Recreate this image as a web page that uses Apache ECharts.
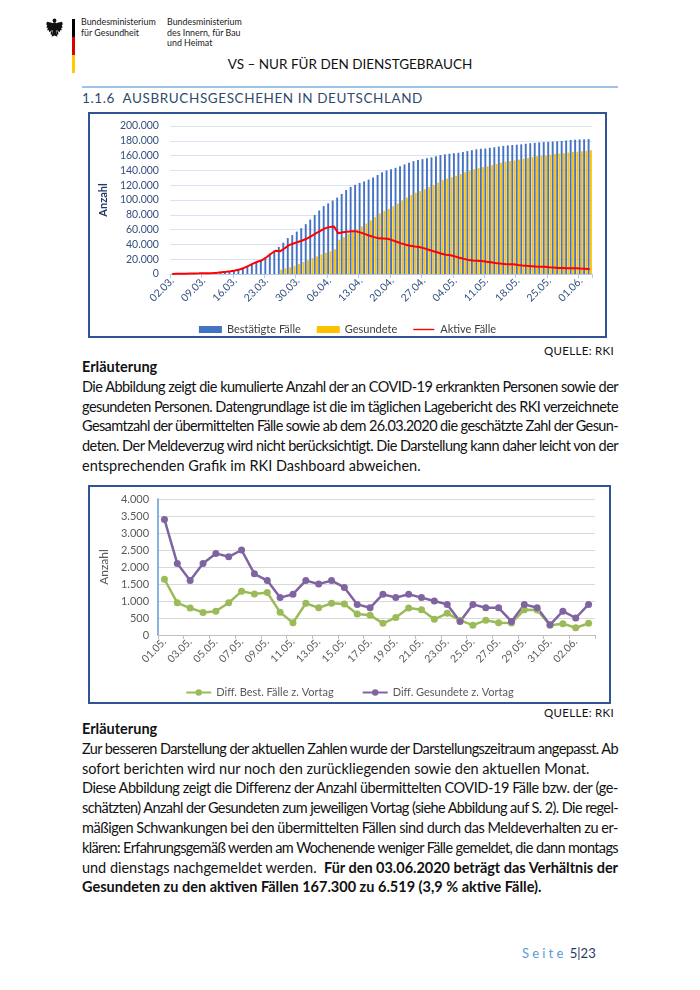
<!DOCTYPE html>
<html lang="de">
<head>
<meta charset="utf-8">
<script src="https://cdn.jsdelivr.net/npm/echarts@6/dist/echarts.min.js"></script>
<style>
  html,body{margin:0;padding:0;background:#fff;}
  body{width:700px;height:990px;position:relative;overflow:hidden;font-family:Lato,"Noto Sans",sans-serif;color:#111;}
  .abs{position:absolute;white-space:nowrap;}
  .hdr{font-size:10.3px;line-height:10.5px;color:#1a1a1a;font-family:Lato,sans-serif;transform:scaleX(0.86);transform-origin:0 0;}
  .box{position:absolute;border:2px solid #2F5597;box-sizing:border-box;background:#fff;}
  .chart{position:absolute;left:0;top:0;right:0;bottom:0;}
  .txt{position:absolute;left:82px;width:536px;font-size:14.5px;line-height:19.8px;color:#111;}
  .ln{display:block;height:19.8px;white-space:nowrap;overflow:visible;}
  .j{text-align:justify;text-align-last:justify;}
  .quelle{position:absolute;right:86px;font-size:11.5px;color:#111;letter-spacing:0.3px;}
  b{font-weight:700;}
</style>
</head>
<body>
<!-- header -->
<svg class="abs" style="left:46px;top:18px" width="17" height="20" viewBox="0 0 20 24">
  <g fill="#111">
    <circle cx="10" cy="3" r="2.3"/>
    <ellipse cx="10" cy="11" rx="3.2" ry="6"/>
    <polygon points="8,6 1,4.5 0,7.5 1.2,8.6 0.3,11.5 2,12 1.2,14.8 3.3,14.8 3.6,17 8,14"/>
    <polygon points="12,6 19,4.5 20,7.5 18.8,8.6 19.7,11.5 18,12 18.8,14.8 16.7,14.8 16.4,17 12,14"/>
    <polygon points="8,15.5 12,15.5 13.5,22.5 10,21 6.5,22.5"/>
    <rect x="5.5" y="16" width="2" height="4"/>
    <rect x="12.5" y="16" width="2" height="4"/>
  </g>
</svg>
<div class="abs" style="left:72px;top:19px;width:2.5px;height:18px;background:#000"></div>
<div class="abs" style="left:72px;top:37px;width:2.5px;height:18px;background:#DD0000"></div>
<div class="abs" style="left:72px;top:55px;width:2.5px;height:18px;background:#FFCC00"></div>
<div class="abs hdr" style="left:81px;top:16px">Bundesministerium<br>für Gesundheit</div>
<div class="abs hdr" style="left:167px;top:16px">Bundesministerium<br>des Innern, für Bau<br>und Heimat</div>
<div class="abs" style="left:0;width:700px;top:56px;text-align:center;font-size:13.5px;color:#111;">VS – NUR FÜR DEN DIENSTGEBRAUCH</div>
<div class="abs" style="left:82px;top:86px;width:536px;height:1.5px;background:#9DC3E6"></div>
<div id="sect" class="abs fit" data-w="341" style="left:82px;top:90px;font-size:13.5px;color:#2E4A70;letter-spacing:1px;">1.1.6&nbsp;&nbsp;AUSBRUCHSGESCHEHEN IN DEUTSCHLAND</div>

<!-- chart 1 -->
<div class="box" style="left:88px;top:112px;width:519px;height:226px;"><div id="c1" class="chart"></div></div>
<div class="quelle" style="top:344px;">QUELLE: RKI</div>
<div class="txt" style="top:357px;">
  <span class="ln"><b>Erläuterung</b></span>
  <span class="ln j">Die Abbildung zeigt die kumulierte Anzahl der an COVID-19 erkrankten Personen sowie der</span>
  <span class="ln j">gesundeten Personen. Datengrundlage ist die im täglichen Lagebericht des RKI verzeichnete</span>
  <span class="ln j">Gesamtzahl der übermittelten Fälle sowie ab dem 26.03.2020 die geschätzte Zahl der Gesun-</span>
  <span class="ln j">deten. Der Meldeverzug wird nicht berücksichtigt. Die Darstellung kann daher leicht von der</span>
  <span class="ln">entsprechenden Grafik im RKI Dashboard abweichen.</span>
</div>

<!-- chart 2 -->
<div class="box" style="left:88px;top:485px;width:523px;height:219px;"><div id="c2" class="chart"></div></div>
<div class="quelle" style="top:706px;">QUELLE: RKI</div>
<div class="txt" style="top:719px;">
  <span class="ln"><b>Erläuterung</b></span>
  <span class="ln j">Zur besseren Darstellung der aktuellen Zahlen wurde der Darstellungszeitraum angepasst. Ab</span>
  <span class="ln">sofort berichten wird nur noch den zurückliegenden sowie den aktuellen Monat.</span>
  <span class="ln j">Diese Abbildung zeigt die Differenz der Anzahl übermittelten COVID-19 Fälle bzw. der (ge-</span>
  <span class="ln j">schätzten) Anzahl der Gesundeten zum jeweiligen Vortag (siehe Abbildung auf S. 2). Die regel-</span>
  <span class="ln j">mäßigen Schwankungen bei den übermittelten Fällen sind durch das Meldeverhalten zu er-</span>
  <span class="ln j">klären: Erfahrungsgemäß werden am Wochenende weniger Fälle gemeldet, die dann montags</span>
  <span class="ln j">und dienstags nachgemeldet werden.&nbsp; <b>Für den 03.06.2020 beträgt das Verhältnis der</b></span>
  <span class="ln"><b>Gesundeten zu den aktiven Fällen 167.300 zu 6.519 (3,9 % aktive Fälle).</b></span>
</div>

<!-- footer -->
<div class="abs" style="left:522px;top:945px;font-size:13px;"><span style="color:#5B9BD5;letter-spacing:3.2px;">Seite</span> <span style="color:#1F3864;">5|23</span></div>

<script>
// ---------------- data: chart 1 (cumulative) ----------------
const dates1 = ['02.03.','03.03.','04.03.','05.03.','06.03.','07.03.','08.03.','09.03.','10.03.','11.03.','12.03.','13.03.','14.03.','15.03.','16.03.','17.03.','18.03.','19.03.','20.03.','21.03.','22.03.','23.03.','24.03.','25.03.','26.03.','27.03.','28.03.','29.03.','30.03.','31.03.',
'01.04.','02.04.','03.04.','04.04.','05.04.','06.04.','07.04.','08.04.','09.04.','10.04.','11.04.','12.04.','13.04.','14.04.','15.04.','16.04.','17.04.','18.04.','19.04.','20.04.','21.04.','22.04.','23.04.','24.04.','25.04.','26.04.','27.04.','28.04.','29.04.','30.04.',
'01.05.','02.05.','03.05.','04.05.','05.05.','06.05.','07.05.','08.05.','09.05.','10.05.','11.05.','12.05.','13.05.','14.05.','15.05.','16.05.','17.05.','18.05.','19.05.','20.05.','21.05.','22.05.','23.05.','24.05.','25.05.','26.05.','27.05.','28.05.','29.05.','30.05.','31.05.',
'01.06.','02.06.','03.06.'];
const confirmed = [150,188,240,349,534,684,847,1112,1139,1296,1567,2369,3062,3795,4838,
6012,8198,10999,13957,16662,18610,22672,27436,31554,36508,42288,48582,52547,57298,61913,
67366,73522,79696,85778,91714,95391,99225,103228,108202,113525,117658,120479,123016,125098,127584,130450,133830,137439,139897,141672,143457,145694,148046,150383,152438,154175,155193,156337,157641,159119,
160758,161703,162496,163160,163860,164807,166091,167300,168551,169218,169575,170508,171306,172239,173152,173772,174355,174697,175210,176007,176752,177212,177850,178281,178570,179002,179364,179717,180458,181196,181482,
181815,182028,182370];
const recovered = [null,null,null,null,null,null,null,null,null,null,null,null,null,null,null,null,null,null,null,null,null,null,null,null,
5700,7600,9200,11000,13500,16100,
18700,21400,23800,26400,28700,30600,33300,46300,49700,54100,57400,60200,64300,68200,72600,77000,81800,85400,88000,91500,95200,99400,103300,106800,109800,112000,114500,117400,120400,123500,
126900,129000,130600,132700,135100,137400,139900,141700,143300,144400,145600,147200,148700,150300,151700,152600,153400,154600,155700,156900,158000,159000,159900,160300,161200,162000,162800,163200,164100,164900,165200,
165900,166400,167300];
const active = [150,188,240,349,534,684,847,1110,1137,1293,1564,2364,3056,3787,4826,
5998,8170,10960,13910,16605,18550,22580,27320,31400,
30610,34430,39050,41160,43340,45230,
47930,51250,54880,58220,61670,63360,64320,55070,56390,57050,57710,57610,55920,53930,51730,49880,48160,47930,47600,45770,43660,41420,39650,38260,37140,36540,34940,33020,31130,29330,
27380,26130,25250,23770,21930,20410,19070,18330,17880,17420,16560,15780,14970,14220,13630,13290,13040,12160,11500,11020,10610,10040,9730,9730,9110,8700,8220,8110,7910,7810,7780,
7400,7110,6519];
const yTicks1 = {min:0, max:200000, step:20000};

// ---------------- data: chart 2 (daily differences) ----------------
const dates2 = ['01.05.','02.05.','03.05.','04.05.','05.05.','06.05.','07.05.','08.05.','09.05.','10.05.','11.05.','12.05.','13.05.','14.05.','15.05.','16.05.','17.05.','18.05.','19.05.','20.05.','21.05.','22.05.','23.05.','24.05.','25.05.','26.05.','27.05.','28.05.','29.05.','30.05.','31.05.','01.06.','02.06.','03.06.'];
const diffConfirmed = [1639,945,793,664,700,947,1284,1209,1251,667,357,933,798,933,913,620,583,342,513,797,745,460,638,431,289,432,362,353,741,738,286,333,213,342];
const diffRecovered = [3400,2100,1600,2100,2400,2300,2500,1800,1600,1100,1200,1600,1500,1600,1400,900,800,1200,1100,1200,1100,1000,900,400,900,800,800,400,900,800,300,700,500,900];
const yTicks2 = {min:0, max:4000, step:500};

const names1 = ['Bestätigte Fälle','Gesundete','Aktive Fälle'];
const names2 = ['Diff. Best. Fälle z. Vortag','Diff. Gesundete z. Vortag'];

// ---------------- helpers ----------------
function de(v){ return String(v).replace(/\B(?=(\d{3})+(?!\d))/g,'.'); }
const FONT = 'Lato, "Noto Sans", sans-serif';
// thin line legend icon (invisible moveTo points keep the bounding box so the bar stays thin)
const lineIcon = 'path://M0,0M0,3.2H24V4.8H0ZM24,8';

// ---------------- chart 1 ----------------
const c1 = echarts.init(document.getElementById('c1'), null, {renderer:'canvas'});
const axisBlue = '#34507F';
c1.setOption({
  animation:false,
  textStyle:{fontFamily:FONT},
  grid:{left:75, right:13, top:12, bottom:62},
  legend:{
    top:205, left:'center', itemGap:16, itemWidth:23, itemHeight:7,
    textStyle:{color:'#3F3F3F', fontSize:11, fontFamily:FONT},
    data:[{name:names1[0], icon:'rect'},{name:names1[1], icon:'rect'},{name:names1[2], icon:lineIcon}]
  },
  xAxis:{
    type:'category', data:dates1, boundaryGap:true,
    axisLine:{lineStyle:{color:'#B4C7E7'}},
    axisTick:{show:true, interval:6, alignWithLabel:false, length:4, lineStyle:{color:'#B4C7E7'}},
    axisLabel:{interval:6, rotate:45, color:axisBlue, fontSize:10.5, margin:5, fontFamily:FONT}
  },
  yAxis:{
    type:'value', min:yTicks1.min, max:yTicks1.max, interval:yTicks1.step,
    name:'Anzahl', nameLocation:'middle', nameGap:55, nameRotate:90,
    nameTextStyle:{color:'#1F3864', fontWeight:'bold', fontSize:11, fontFamily:FONT},
    axisLine:{show:false}, axisTick:{show:false},
    axisLabel:{color:axisBlue, fontSize:10.5, margin:11, formatter:de, fontFamily:FONT},
    splitLine:{lineStyle:{color:'#DAE3F3', width:1}}
  },
  series:[
    {name:names1[0], type:'bar', data:confirmed, barWidth:1.9, barGap:'20%', itemStyle:{color:'#4472C4'}},
    {name:names1[1], type:'bar', data:recovered, barWidth:1.9, itemStyle:{color:'#FFC000'}},
    {name:names1[2], type:'line', data:active, symbol:'none', showSymbol:false, z:5, lineStyle:{color:'#FF0000', width:2}, itemStyle:{color:'#FF0000'}}
  ]
});

// ---------------- chart 2 ----------------
const c2 = echarts.init(document.getElementById('c2'), null, {renderer:'canvas'});
c2.setOption({
  animation:false,
  textStyle:{fontFamily:FONT},
  grid:{left:65, right:14, top:12, bottom:67},
  legend:{
    top:195, left:'center', itemGap:28, itemWidth:25, itemHeight:8,
    textStyle:{color:'#595959', fontSize:11, fontFamily:FONT},
    data:names2
  },
  xAxis:{
    type:'category', data:dates2, boundaryGap:true,
    axisLine:{lineStyle:{color:'#BFBFBF'}},
    axisTick:{show:true, interval:1, alignWithLabel:false, length:4, lineStyle:{color:'#BFBFBF'}},
    axisLabel:{interval:1, rotate:45, color:'#595959', fontSize:10.5, margin:5, fontFamily:FONT}
  },
  yAxis:{
    type:'value', min:yTicks2.min, max:yTicks2.max, interval:yTicks2.step,
    name:'Anzahl', nameLocation:'middle', nameGap:46, nameRotate:90,
    nameTextStyle:{color:'#595959', fontSize:12, fontFamily:FONT},
    axisLine:{show:true, lineStyle:{color:'#5B9BD5', width:1.5}}, axisTick:{show:false},
    axisLabel:{color:'#595959', fontSize:11, margin:9, formatter:de, fontFamily:FONT},
    splitLine:{lineStyle:{color:'#D9D9D9', width:1}}
  },
  series:[
    {name:names2[0], type:'line', data:diffConfirmed, symbol:'circle', symbolSize:7, showSymbol:true,
     lineStyle:{color:'#9BBB59', width:2.5}, itemStyle:{color:'#9BBB59'}},
    {name:names2[1], type:'line', data:diffRecovered, symbol:'circle', symbolSize:7, showSymbol:true,
     lineStyle:{color:'#8064A2', width:2.5}, itemStyle:{color:'#8064A2'}}
  ]
});

// ---------------- text fitting ----------------
function fitLines(){
  document.querySelectorAll('.ln.j').forEach(el=>{
    el.style.letterSpacing='0px';
    const s=document.createElement('span');
    s.style.whiteSpace='nowrap';
    s.innerHTML=el.innerHTML;
    el.innerHTML='';
    el.appendChild(s);
    const w=s.getBoundingClientRect().width;
    const W=el.clientWidth;
    const html=s.innerHTML;
    el.innerHTML=html;
    if(w>W-1){
      const n=el.textContent.length;
      el.style.letterSpacing=((W-1-w)/n)+'px';
    }
    el.style.whiteSpace='normal';
  });
  document.querySelectorAll('.fit').forEach(el=>{
    el.style.letterSpacing='0px';
    const w=el.getBoundingClientRect().width;
    const target=+el.dataset.w;
    const n=el.textContent.length;
    el.style.letterSpacing=((target-w)/n)+'px';
  });
}
fitLines();
if(document.fonts && document.fonts.ready){ document.fonts.ready.then(fitLines); }
</script>
</body>
</html>
